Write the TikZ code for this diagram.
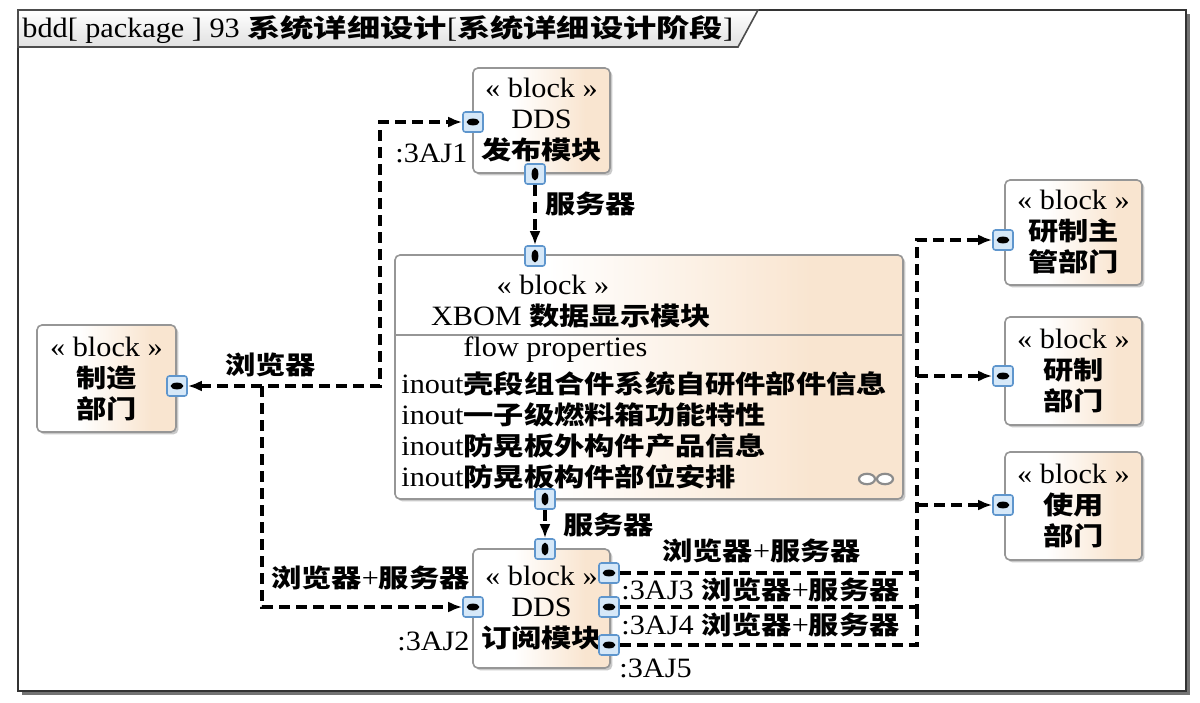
\documentclass[tikz,border=0pt]{standalone}
\usepackage{fontspec}
\setmainfont[FakeStretch=1.08]{Liberation Serif}
\newfontfamily\cjk[Scale=0.9,FakeStretch=1.2]{Noto Sans CJK SC}
\newfontfamily\cjkt[Scale=0.9,FakeStretch=1.32]{Noto Sans CJK SC}
\usetikzlibrary{arrows.meta,shadows}
\newcommand\zh[1]{{\cjk\bfseries #1}}
\newcommand\zht[1]{{\cjkt\bfseries #1}}
\definecolor{peach}{RGB}{249,229,208}
\definecolor{portfill}{RGB}{214,232,248}
\definecolor{portdraw}{RGB}{95,150,205}
\definecolor{blkline}{RGB}{150,150,150}
\pgfdeclarehorizontalshading{blkshade}{100bp}{color(0bp)=(white); color(40bp)=(white); color(66bp)=(peach); color(100bp)=(peach)}
\begin{document}
\begin{tikzpicture}[x=0.5pt,y=-0.5pt,
  blockbox/.style={draw=blkline, line width=0.8pt, rounded corners=2.5pt, shading=blkshade,
    drop shadow={shadow xshift=1.2pt, shadow yshift=-1.2pt, opacity=0.35, fill=black!60},
    inner sep=1pt, align=center, font=\fontsize{14}{15.5}\selectfont},
  txt/.style={inner sep=0pt, font=\fontsize{14}{15.5}\selectfont},
  portbox/.style={draw=portdraw, fill=portfill, line width=0.8pt, rounded corners=1.2pt,
    minimum width=10pt, minimum height=10pt, inner sep=0pt},
  conn/.style={line width=1.7pt, dash pattern=on 5.5pt off 3pt},
  tip/.style={-{Latex[length=7pt,width=5.5pt]}},
  tips/.style={{Latex[length=7pt,width=5.5pt]}-{Latex[length=7pt,width=5.5pt]}},
]
\useasboundingbox (0,0) rectangle (1200,702);
% frame
\fill[black!55] (22,14) rectangle (1190,695);
\draw[line width=1.2pt, draw=black!80, fill=white] (18,10) rectangle (1186,691);
\shade[top color=white, bottom color=black!12, draw=black!70, line width=0.8pt]
  (18,10) -- (758,10) -- (738,47) -- (18,47) -- cycle;
\node[txt, anchor=west] (title) at (22,30) {bdd[ package ] 93 \zht{系统详细设计}[\zht{系统详细设计阶段}]};

% blocks
\node[blockbox, minimum width=68.5pt, minimum height=52.5pt] (pub) at (541.5,120.5) {« block »\\DDS\\\zh{发布模块}};
\node[blockbox, minimum width=254pt, minimum height=122pt] (xbom) at (649,377) {};
\node[blockbox, minimum width=69.5pt, minimum height=53.5pt] (mfg) at (106.5,378.5) {« block »\\\zh{制造}\\\zh{部门}};
\node[blockbox, minimum width=68.5pt, minimum height=52.5pt] (rdm) at (1073.5,232.5) {« block »\\\zh{研制主}\\\zh{管部门}};
\node[blockbox, minimum width=68.5pt, minimum height=54pt] (rd) at (1073.5,371) {« block »\\\zh{研制}\\\zh{部门}};
\node[blockbox, minimum width=68.5pt, minimum height=54pt] (use) at (1073.5,506) {« block »\\\zh{使用}\\\zh{部门}};
\node[blockbox, minimum width=68.5pt, minimum height=59.5pt] (sub) at (541.5,608.5) {« block »\\DDS\\\zh{订阅模块}};

% XBOM contents
\draw[blkline, line width=0.8pt] (xbom.west |- 0,335) -- (xbom.east |- 0,335);
\node[txt] (xst) at (553,285) {« block »};
\node[txt] (xnm) at (571,316) {XBOM \zh{数据显示模块}};
\node[txt, anchor=west] (fp) at (463,350) {flow properties};
\node[txt, anchor=west] (p1) at (401,384) {inout\zh{壳段组合件系统自研件部件信息}};
\node[txt, anchor=west] (p2) at (401,415) {inout\zh{一子级燃料箱功能特性}};
\node[txt, anchor=west] (p3) at (401,446) {inout\zh{防晃板外构件产品信息}};
\node[txt, anchor=west] (p4) at (401,477) {inout\zh{防晃板构件部位安排}};
\draw[black!45, line width=1.1pt, fill=white] (867,479) ellipse [x radius=4pt, y radius=2.6pt];
\draw[black!45, line width=1.1pt, fill=white] (885,479) ellipse [x radius=4pt, y radius=2.6pt];

% ports
\node[portbox] (pubL) at (473,122) {};
\node[portbox] (pubB) at (535,174) {};
\node[portbox] (xbomT) at (535,256) {};
\node[portbox] (xbomB) at (545,499) {};
\node[portbox] (mfgR) at (177,386) {};
\node[portbox] (rdmL) at (1003,240) {};
\node[portbox] (rdL) at (1003,376) {};
\node[portbox] (useL) at (1003,505) {};
\node[portbox] (subT) at (545,549) {};
\node[portbox] (subL) at (473,607) {};
\node[portbox] (subR1) at (609,573) {};
\node[portbox] (subR2) at (609,607) {};
\node[portbox] (subR3) at (609,645) {};
\foreach \p in {pubL,mfgR,rdmL,rdL,useL,subL,subR1,subR2,subR3}
  \fill (\p.center) ellipse [x radius=3.2pt, y radius=1.7pt];
\foreach \p in {pubB,xbomT,xbomB,subT}
  \fill (\p.center) ellipse [x radius=1.7pt, y radius=3.2pt];

% connectors
\coordinate (j1) at (262,386);
\coordinate (j2) at (917,376);
\coordinate (j3) at (917,505);
\draw[conn, tips] (mfgR.east) -- (380,386) |- (pubL.west);
\draw[conn, tip] (j1) |- (subL.west);
\draw[conn, tip] (pubB.south) -- (xbomT.north);
\draw[conn, tip] (xbomB.south) -- (subT.north);
\draw[conn, tip] (subR1.east) -- (917,573) |- (rdmL.west);
\draw[conn, tip] (j2) -- (rdL.west);
\draw[conn, tip] (j3) -- (useL.west);
\draw[conn] (subR2.east) -| (917,573);
\draw[conn] (subR3.east) -| (917,607);

% labels
\node[txt, anchor=east] (l3aj1) at (468,153) {:3AJ1};
\node[txt, anchor=west] (lsv1) at (545,204) {\zh{服务器}};
\node[txt, anchor=west] (llb) at (225,365) {\zh{浏览器}};
\node[txt, anchor=west] (lsv2) at (563,525) {\zh{服务器}};
\node[txt, anchor=east] (llbs) at (470,578) {\zh{浏览器}+\zh{服务器}};
\node[txt, anchor=east] (l3aj2) at (470,641) {:3AJ2};
\node[txt, anchor=west] (lrbs) at (662,551) {\zh{浏览器}+\zh{服务器}};
\node[txt, anchor=west] (l3aj3) at (621,590) {:3AJ3 \zh{浏览器}+\zh{服务器}};
\node[txt, anchor=west] (l3aj4) at (621,625) {:3AJ4 \zh{浏览器}+\zh{服务器}};
\node[txt, anchor=west] (l3aj5) at (619,668) {:3AJ5};
\end{tikzpicture}
\end{document}
